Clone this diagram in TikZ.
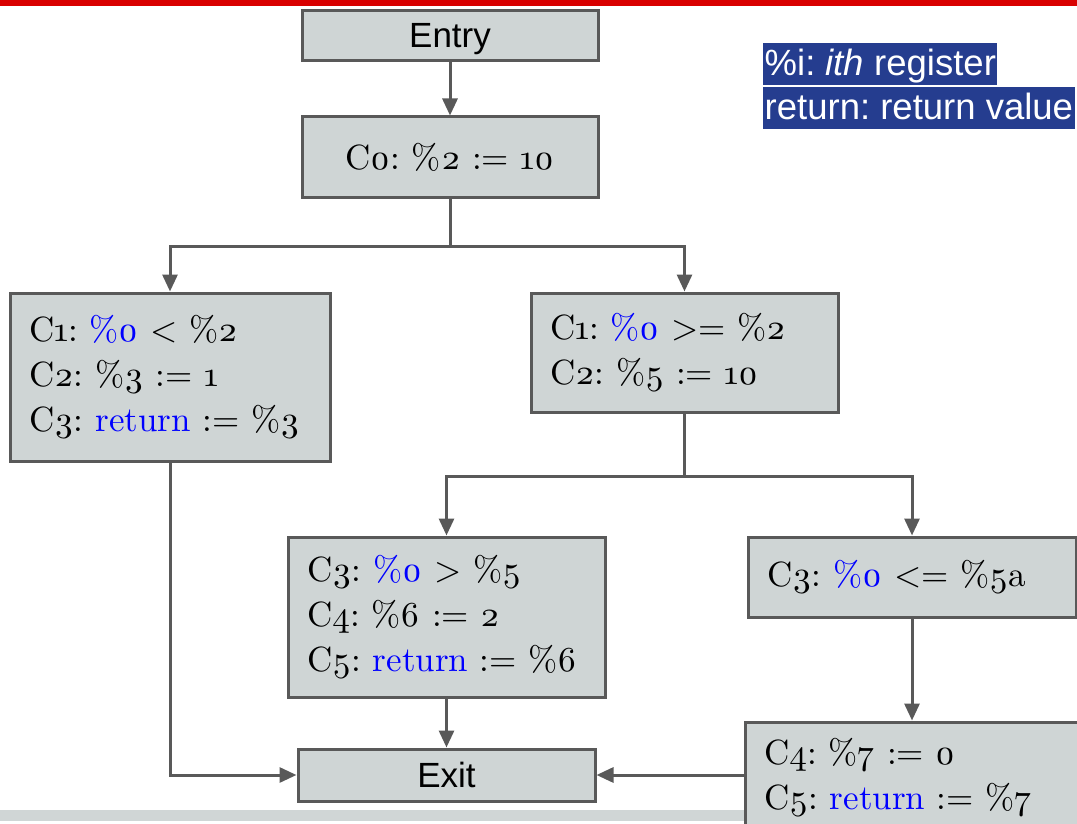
\documentclass[tikz,border=0pt]{standalone}
\usepackage{fontspec}
\setmainfont{lmroman10-regular}[Extension=.otf, Numbers=OldStyle,
  ItalicFont=lmroman10-italic, BoldFont=lmroman10-bold]
\newfontfamily\arialfont{Liberation Sans}
\usetikzlibrary{arrows.meta,calc}
\definecolor{boxfill}{HTML}{CFD5D5}
\definecolor{edgegray}{HTML}{595959}
\definecolor{legendblue}{HTML}{253D8F}
\definecolor{topred}{HTML}{D90000}
\definecolor{bargray}{HTML}{D0D6D6}
\newcommand{\kw}[1]{\textcolor{blue}{#1}}
\frenchspacing
\tikzset{
  block/.style={draw=edgegray, line width=3pt, fill=boxfill, rectangle, inner sep=0pt,
    font=\fontsize{35}{45}\selectfont\frenchspacing},
  code/.style={block, align=left, inner xsep=19pt},
  term/.style={block, text height=24.5pt, text depth=0pt,
    font=\arialfont\fontsize{35}{40}\selectfont},
  wire/.style={draw=edgegray, line width=3pt},
  flow/.style={wire, -{Triangle[length=17pt,width=15pt]}},
  legend/.style={fill=legendblue, text=white, anchor=north west, inner xsep=1.5pt,
    inner ysep=0pt, font=\arialfont\fontsize{36.5}{40}\selectfont}
}
\begin{document}
\begin{tikzpicture}[x=1pt,y=-1pt]
\useasboundingbox (0,0) rectangle (1077,824);
\clip (0,0) rectangle (1077,824);
% page decorations
\fill[topred] (0,0) rectangle (1077,6);
\fill[bargray] (0,810) rectangle (1077,821);

% legend
\node[legend, minimum height=42pt, text height=30pt, text depth=8pt] (leg1) at (763,43)
  {\%i: \textit{ith} register};
\node[legend, minimum height=42pt, text height=30pt, text depth=8pt] (leg2) at (763,87)
  {return: return value};

% blocks
\node[term, minimum width=296pt, minimum height=50pt] (entry) at (450,35.5) {Entry};
\node[block, minimum width=296pt, minimum height=81pt] (c0) at (450,157.5) {C0: \%2 := 10};
\node[code, minimum width=320pt, minimum height=168pt, text width=282pt] (b1) at (170,377)
  {C1: \kw{\%0} < \%2\\C2: \%3 := 1\\C3: \kw{return} := \%3};
\node[code, minimum width=307pt, minimum height=119pt, text width=269pt] (b2) at (684.5,352.5)
  {C1: \kw{\%0} >= \%2\\C2: \%5 := 10};
\node[code, minimum width=317pt, minimum height=160pt, text width=279pt] (b3) at (446.5,617)
  {C3: \kw{\%0} > \%5\\C4: \%6 := 2\\C5: \kw{return} := \%6};
\node[code, minimum width=328pt, minimum height=80pt, text width=290pt] (b4) at (912,577)
  {C3: \kw{\%0} <= \%5a};
\node[code, minimum width=337pt, minimum height=112pt, text width=299pt] (b5) at (913.5,778)
  {C4: \%7 := 0\\C5: \kw{return} := \%7};
\node[term, minimum width=297pt, minimum height=52pt] (exit) at (446.5,775) {Exit};

% control flow
\coordinate (split1) at ($(c0.south)+(0,47)$);
\coordinate (split2) at ($(b2.south)+(0,63)$);
\draw[flow] (entry) -- (c0);
\draw[wire] (c0.south) -- (split1);
\draw[flow] (split1) -| (b1);
\draw[flow] (split1) -| (b2);
\draw[wire] (b2.south) -- (split2);
\draw[flow] (split2) -| (b3);
\draw[flow] (split2) -| (b4);
\draw[flow] (b4) -- (b4.south |- b5.north);
\draw[flow] (b1.south) |- (exit.west);
\draw[flow] (b3) -- (exit);
\draw[flow] (b5.west |- exit.east) -- (exit.east);
\end{tikzpicture}
\end{document}
